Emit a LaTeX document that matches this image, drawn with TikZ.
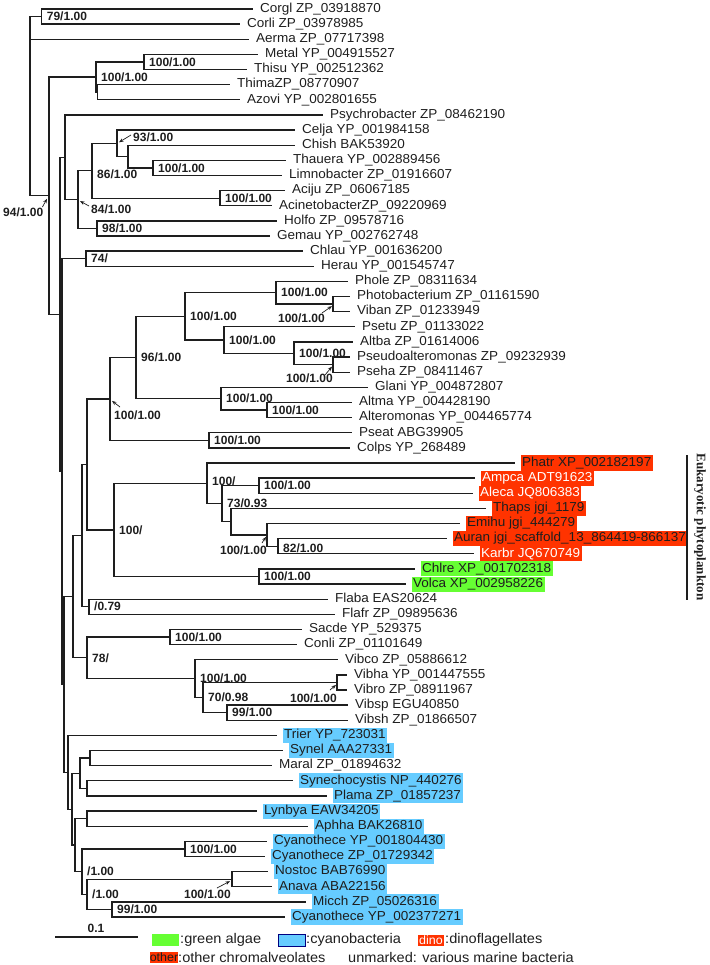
\documentclass[tikz,border=0pt]{standalone}
\usepackage{fontspec}
\setmainfont{Liberation Sans}
\newfontfamily\lfont{Liberation Sans}[FakeStretch=1.04]
\newfontfamily\bfont{Liberation Sans Bold}
\newfontfamily\efont{Liberation Serif Bold}
\usetikzlibrary{calc,arrows.meta}
\definecolor{redb}{RGB}{255,51,0}
\definecolor{greenb}{RGB}{102,255,51}
\definecolor{blueb}{RGB}{102,204,255}
\definecolor{ink}{RGB}{30,30,30}
\tikzset{
  br/.style={draw=ink,line width=1.3pt},
  leaf/.style={anchor=west,outer xsep=5.5pt,inner xsep=1.5pt,inner ysep=0pt,
    minimum height=15.1pt,text height=9.3pt,text depth=2.7pt,
    font=\lfont\fontsize{13}{15}\selectfont,text=ink},
  red/.style={fill=redb},
  redw/.style={fill=redb,text=white},
  grn/.style={fill=greenb},
  blu/.style={fill=blueb},
  bs/.style={anchor=west,xshift=4pt,inner sep=1pt,
    font=\bfont\fontsize{12}{14}\selectfont,text=ink},
  bsa/.style={inner sep=1pt,font=\bfont\fontsize{12}{14}\selectfont,text=ink},
  arr/.style={draw=ink,line width=0.7pt,-{Stealth[length=4.5pt,width=3.5pt]}},
  lgt/.style={anchor=west,inner sep=0pt,font=\lfont\fontsize{14}{16}\selectfont,text=ink},
  lgbox/.style={minimum width=27pt,minimum height=12pt,inner sep=0pt}
}
\newcommand\lv[4]{\node[leaf,#4] (L#1) at (#2,{9+(#1-1)*15.133}) {#3};}
\newcommand\nd[4]{\path let \p1=($(#3)!.5!(#4)$) in coordinate (#1) at (#2pt,\y1);}
\newcommand\kids[2]{\foreach \c in {#2} {\draw[br] (#1) |- (\c);}}
\begin{document}
\begin{tikzpicture}[x=1pt,y=-1pt]
\useasboundingbox (0,0) rectangle (709,965);
% leaves
\lv{1}{253}{Corgl ZP\_03918870}{}
\lv{2}{240}{Corli ZP\_03978985}{}
\lv{3}{249}{Aerma ZP\_07717398}{}
\lv{4}{258}{Metal YP\_004915527}{}
\lv{5}{247}{Thisu YP\_002512362}{}
\lv{6}{230}{ThimaZP\_08770907}{}
\lv{7}{240}{Azovi YP\_002801655}{}
\lv{8}{323}{Psychrobacter ZP\_08462190}{}
\lv{9}{295}{Celja YP\_001984158}{}
\lv{10}{295}{Chish BAK53920}{}
\lv{11}{286}{Thauera YP\_002889456}{}
\lv{12}{282}{Limnobacter ZP\_01916607}{}
\lv{13}{285}{Aciju ZP\_06067185}{}
\lv{14}{272}{AcinetobacterZP\_09220969}{}
\lv{15}{277}{Holfo ZP\_09578716}{}
\lv{16}{270}{Gemau YP\_002762748}{}
\lv{17}{303}{Chlau YP\_001636200}{}
\lv{18}{314}{Herau YP\_001545747}{}
\lv{19}{348}{Phole ZP\_08311634}{}
\lv{20}{350}{Photobacterium ZP\_01161590}{}
\lv{21}{350}{Viban ZP\_01233949}{}
\lv{22}{355}{Psetu ZP\_01133022}{}
\lv{23}{353}{Altba ZP\_01614006}{}
\lv{24}{350}{Pseudoalteromonas ZP\_09232939}{}
\lv{25}{350}{Pseha ZP\_08411467}{}
\lv{26}{368}{Glani YP\_004872807}{}
\lv{27}{352}{Altma YP\_004428190}{}
\lv{28}{352}{Alteromonas YP\_004465774}{}
\lv{29}{352}{Pseat ABG39905}{}
\lv{30}{350}{Colps YP\_268489}{}
\lv{31}{515}{Phatr XP\_002182197}{red}
\lv{32}{475}{Ampca ADT91623}{redw}
\lv{33}{473}{Aleca JQ806383}{redw}
\lv{34}{486}{Thaps jgi\_1179}{red}
\lv{35}{460}{Emihu jgi\_444279}{red}
\lv{36}{447}{Auran jgi\_scaffold\_13\_864419-866137}{red}
\lv{37}{474}{Karbr JQ670749}{redw}
\lv{38}{415}{Chlre XP\_001702318}{grn}
\lv{39}{406}{Volca XP\_002958226}{grn}
\lv{40}{328}{Flaba EAS20624}{}
\lv{41}{335}{Flafr ZP\_09895636}{}
\lv{42}{302}{Sacde YP\_529375}{}
\lv{43}{297}{Conli ZP\_01101649}{}
\lv{44}{338}{Vibco ZP\_05886612}{}
\lv{45}{347}{Vibha YP\_001447555}{}
\lv{46}{347}{Vibro ZP\_08911967}{}
\lv{47}{348}{Vibsp EGU40850}{}
\lv{48}{348}{Vibsh ZP\_01866507}{}
\lv{49}{277}{Trier YP\_723031}{blu}
\lv{50}{283}{Synel AAA27331}{blu}
\lv{51}{272}{Maral ZP\_01894632}{}
\lv{52}{293}{Synechocystis NP\_440276}{blu}
\lv{53}{327}{Plama ZP\_01857237}{blu}
\lv{54}{257}{Lynbya EAW34205}{blu}
\lv{55}{308}{Aphha BAK26810}{blu}
\lv{56}{267}{Cyanothece YP\_001804430}{blu}
\lv{57}{265}{Cyanothece ZP\_01729342}{blu}
\lv{58}{268}{Nostoc BAB76990}{blu}
\lv{59}{272}{Anava ABA22156}{blu}
\lv{60}{306}{Micch ZP\_05026316}{blu}
\lv{61}{285}{Cyanothece YP\_002377271}{blu}
% internal nodes
\nd{n41}{41.7}{L1}{L2}
\nd{n144}{144}{L4}{L5}
\nd{n98}{97.5}{L6}{L7}
\nd{n96}{96}{n144}{n98}
\nd{n153}{153}{L11}{L12}
\nd{n128}{128}{L10}{n153}
\nd{n117}{117}{L9}{n128}
\nd{n220}{220}{L13}{L14}
\nd{n92}{92}{n117}{n220}
\nd{n97}{97}{L15}{L16}
\nd{n78}{78}{n92}{n97}
\nd{n65}{65}{L8}{n78}
\nd{n86}{86}{L17}{L18}
\nd{n333a}{333}{L20}{L21}
\nd{n276}{276}{L19}{n333a}
\nd{n333b}{333}{L24}{L25}
\nd{n294}{294}{L23}{n333b}
\nd{n224}{224}{L22}{n294}
\nd{n185}{185}{n276}{n224}
\nd{n267a}{267}{L27}{L28}
\nd{n221}{221}{L26}{n267a}
\nd{n136}{136}{n185}{n221}
\nd{n209}{209}{L29}{L30}
\nd{n110}{110}{n136}{n209}
\nd{n259b}{259}{L32}{L33}
\nd{n278}{278}{L36}{L37}
\nd{n267}{267}{L35}{n278}
\nd{n231}{231}{L34}{n267}
\nd{n222}{222}{n259b}{n231}
\nd{n207}{207}{L31}{n222}
\nd{n259}{259}{L38}{L39}
\nd{n114}{114}{n207}{n259}
\nd{n87}{87}{n110}{n114}
\nd{n89}{89}{L40}{L41}
\nd{n82}{82}{n87}{n89}
\nd{n170}{170}{L42}{L43}
\nd{n337}{337}{L45}{L46}
\nd{n227}{227}{L47}{L48}
\nd{n203}{203}{n337}{n227}
\nd{n195}{195}{L44}{n203}
\nd{n87b}{87}{n170}{n195}
\nd{n73}{73}{n82}{n87b}
\nd{nSM}{90}{L50}{L51}
\nd{nSP}{87}{L52}{L53}
\nd{nX1}{80}{nSM}{nSP}
\nd{nLA}{87}{L54}{L55}
\nd{n185c}{185}{L56}{L57}
\nd{n232}{232}{L58}{L59}
\nd{n112}{112}{L60}{L61}
\nd{n87c}{87}{n232}{n112}
\nd{n82c}{82}{n185c}{n87c}
\nd{nX2}{75}{nLA}{n82c}
\nd{nC2}{72}{nX1}{nX2}
\nd{nC1}{68}{L49}{nC2}
\nd{nC}{64}{n73}{nC1}
\nd{nB}{62}{n86}{nC}
\nd{nA}{60}{n65}{nB}
\nd{n94}{49}{n96}{nA}
\nd{root}{30}{n41}{n94}
% branches
\kids{root}{n41,L3.west,n94}
\kids{n41}{L1.west,L2.west}
\kids{n94}{n96,nA}
\kids{n96}{n144,n98}
\kids{n144}{L4.west,L5.west}
\kids{n98}{L6.west,L7.west}
\kids{nA}{n65,nB}
\kids{n65}{L8.west,n78}
\kids{n78}{n92,n97}
\kids{n92}{n117,n220}
\kids{n117}{L9.west,n128}
\kids{n128}{L10.west,n153}
\kids{n153}{L11.west,L12.west}
\kids{n220}{L13.west,L14.west}
\kids{n97}{L15.west,L16.west}
\kids{nB}{n86,nC}
\kids{n86}{L17.west,L18.west}
\kids{nC}{n73,nC1}
\kids{n73}{n82,n87b}
\kids{n82}{n87,n89}
\kids{n87}{n110,n114}
\kids{n110}{n136,n209}
\kids{n136}{n185,n221}
\kids{n185}{n276,n224}
\kids{n276}{L19.west,n333a}
\kids{n333a}{L20.west,L21.west}
\kids{n224}{L22.west,n294}
\kids{n294}{L23.west,n333b}
\kids{n333b}{L24.west,L25.west}
\kids{n221}{L26.west,n267a}
\kids{n267a}{L27.west,L28.west}
\kids{n209}{L29.west,L30.west}
\kids{n114}{n207,n259}
\kids{n207}{L31.west,n222}
\kids{n222}{n259b,n231}
\kids{n259b}{L32.west,L33.west}
\kids{n231}{L34.west,n267}
\kids{n267}{L35.west,n278}
\kids{n278}{L36.west,L37.west}
\kids{n259}{L38.west,L39.west}
\kids{n89}{L40.west,L41.west}
\kids{n87b}{n170,n195}
\kids{n170}{L42.west,L43.west}
\kids{n195}{L44.west,n203}
\kids{n203}{n337,n227}
\kids{n337}{L45.west,L46.west}
\kids{n227}{L47.west,L48.west}
\kids{nC1}{L49.west,nC2}
\kids{nC2}{nX1,nX2}
\kids{nX1}{nSM,nSP}
\kids{nSM}{L50.west,L51.west}
\kids{nSP}{L52.west,L53.west}
\kids{nX2}{nLA,n82c}
\kids{nLA}{L54.west,L55.west}
\kids{n82c}{n185c,n87c}
\kids{n185c}{L56.west,L57.west}
\kids{n87c}{n232,n112}
\kids{n232}{L58.west,L59.west}
\kids{n112}{L60.west,L61.west}
% support values
\node[bs] (b41) at (n41) {79/1.00};
\node[bs] (b144) at (n144) {100/1.00};
\node[bs] (b96) at (n96) {100/1.00};
\node[bs] (b153) at (n153) {100/1.00};
\node[bs,yshift=-4pt] (b92) at (n92) {86/1.00};
\node[bs] (b220) at (n220) {100/1.00};
\node[bs] (b97) at (n97) {98/1.00};
\node[bs] (b86) at (n86) {74/};
\node[bs] (b276) at (n276) {100/1.00};
\node[bs] (b185) at (n185) {100/1.00};
\node[bs] (b224) at (n224) {100/1.00};
\node[bs] (b294) at (n294) {100/1.00};
\node[bs] (b136) at (n136) {96/1.00};
\node[bs] (b221) at (n221) {100/1.00};
\node[bs] (b267a) at (n267a) {100/1.00};
\node[bs] (b209) at (n209) {100/1.00};
\node[bs,yshift=2pt] (b207) at (n207) {100/};
\node[bs] (b259b) at (n259b) {100/1.00};
\node[bs] (b222) at (n222) {73/0.93};
\node[bs,yshift=-2pt] (b278) at (n278) {82/1.00};
\node[bs] (b114) at (n114) {100/};
\node[bs] (b259) at (n259) {100/1.00};
\node[bs] (b89) at (n89) {/0.79};
\node[bs] (b170) at (n170) {100/1.00};
\node[bs] (b87b) at (n87b) {78/};
\node[bs] (b195) at (n195) {100/1.00};
\node[bs] (b203) at (n203) {70/0.98};
\node[bs] (b227) at (n227) {99/1.00};
\node[bs] (b185c) at (n185c) {100/1.00};
\node[bs] (b82c) at (n82c) {/1.00};
\node[bs] (b87c) at (n87c) {/1.00};
\node[bs] (b112) at (n112) {99/1.00};
% support values with arrows
\node[bsa,anchor=west] (a117) at (132,137) {93/1.00};
\draw[arr] ([shift={(-1,-2)}]a117.west) -- ([shift={(2,-1)}]n117);
\node[bsa,anchor=west] (a94) at (2,212) {94/1.00};
\draw[arr] ([shift={(-2,-5)}]a94.east) -- ([shift={(-2,3)}]n94);
\node[bsa,anchor=west] (a78) at (90,209) {84/1.00};
\draw[arr] ([shift={(-1,-3)}]a78.west) -- ([shift={(2,1.5)}]n78);
\node[bsa,anchor=east] (a333a) at (326,318) {100/1.00};
\draw[arr] ([shift={(-4,-5)}]a333a.east) -- ([shift={(-1,2)}]n333a);
\node[bsa,anchor=east] (a333b) at (334,378) {100/1.00};
\draw[arr] ([shift={(-9,-3)}]a333b.east) -- ([shift={(-1,2)}]n333b);
\node[bsa,anchor=west] (a110) at (113,415) {100/1.00};
\draw[arr] ([shift={(7,-8)}]a110.west) -- ([shift={(2,2)}]n110);
\node[bsa,anchor=east] (a267) at (268,550) {100/1.00};
\draw[arr] ([shift={(-6,-7)}]a267.east) -- ([shift={(-1,2)}]n267);
\node[bsa,anchor=east] (a337) at (338,698) {100/1.00};
\draw[arr] ([shift={(-8,-8)}]a337.east) -- ([shift={(-1,2.5)}]n337);
\node[bsa,anchor=east] (a232) at (232,894) {100/1.00};
\draw[arr] ([shift={(-15,-6)}]a232.east) -- ([shift={(-2,2)}]n232);
% eukaryotic bracket
\coordinate (eb1) at (687,455);
\coordinate (eb2) at (687,600);
\draw[draw=ink,line width=2pt] (eb1) -- (eb2);
\node[rotate=-90,inner sep=0pt,font=\efont\fontsize{13}{15}\selectfont,text=ink] (euk) at (700,527) {Eukaryotic phytoplankton};
% scale bar
\coordinate (sb1) at (55,937);
\coordinate (sb2) at (138,937);
\draw[draw=ink,line width=1.2pt] (sb1) -- (sb2);
\node[bsa] (sbl) at (96,928) {0.1};
% legend
\node[lgbox,fill=greenb] (lg1) at (165,940) {};
\node[lgt] (lt1) at (180,940) {:green algae};
\node[lgbox,fill=blueb,draw=blue!50!black,line width=0.6pt] (lg2) at (291.5,940) {};
\node[lgt] (lt2) at (306,940) {:cyanobacteria};
\node[lgbox,fill=redb,minimum width=26pt,minimum height=11pt,text=white,font=\lfont\fontsize{12}{12}\selectfont] (lg3) at (431,940.5) {dino};
\node[lgt] (lt3) at (445,940) {:dinoflagellates};
\node[lgbox,fill=redb,minimum width=26pt,minimum height=11pt,text=ink,font=\lfont\fontsize{12}{12}\selectfont] (lg4) at (164,957) {other};
\node[lgt] (lt4) at (178,957) {:other chromalveolates};
\node[lgt] (lt5) at (348,957) {unmarked: various marine bacteria};
\end{tikzpicture}
\end{document}
